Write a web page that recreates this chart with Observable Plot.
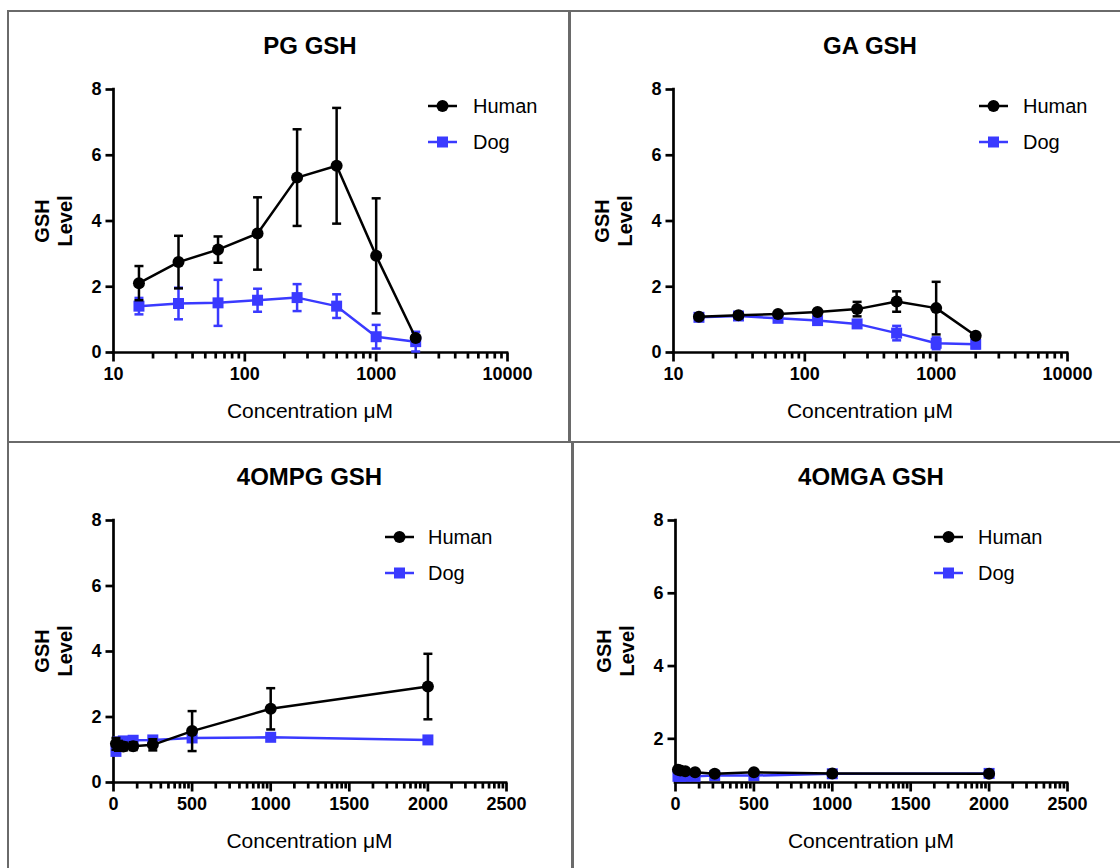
<!DOCTYPE html>
<html><head><meta charset="utf-8">
<script src="https://cdn.jsdelivr.net/npm/d3@7"></script>
<script src="https://cdn.jsdelivr.net/npm/@observablehq/plot@0.6"></script>
<style>
body{margin:0;background:#fff;font-family:"Liberation Sans",Arial,sans-serif;color:#000;}
#root{position:relative;width:1120px;height:868px;overflow:hidden;background:#fff;}
.bl{position:absolute;background:#6a6a6a;}
.title{position:absolute;font-weight:bold;font-size:24px;transform:translate(-50%,-50%);white-space:nowrap;}
.xlab{position:absolute;font-size:21px;transform:translate(-50%,-50%);white-space:nowrap;}
.ylab{position:absolute;font-weight:bold;font-size:20px;line-height:23px;text-align:center;transform:translate(-50%,-50%) rotate(-90deg);white-space:nowrap;}
.leg{position:absolute;font-size:20px;display:flex;align-items:center;height:24px;transform:translateY(-50%);white-space:nowrap;}
.leg svg{margin-right:14px;}
.plotsvg{position:absolute;overflow:visible;}
</style></head>
<body><div id="root"></div>
<script>
// ---- data ----
const concentrations = [15.625, 31.25, 62.5, 125, 250, 500, 1000, 2000];
const seriesNames = ["Human", "Dog"];
const panelTitles = ["PG GSH", "GA GSH", "4OMPG GSH", "4OMGA GSH"];
const xLabel = "Concentration \u03bcM";
const yLabelLines = ["GSH", "Level"];

const pgHumanMean = [2.11, 2.75, 3.13, 3.62, 5.32, 5.68, 2.94, 0.44];
const pgHumanSD   = [0.52, 0.80, 0.40, 1.10, 1.47, 1.76, 1.75, 0.08];
const pgDogMean   = [1.41, 1.49, 1.51, 1.59, 1.67, 1.41, 0.48, 0.33];
const pgDogSD     = [0.25, 0.48, 0.70, 0.35, 0.41, 0.36, 0.36, 0.30];

const gaHumanMean = [1.09, 1.13, 1.17, 1.23, 1.32, 1.55, 1.35, 0.51];
const gaHumanSD   = [0.06, 0.05, 0.05, 0.06, 0.22, 0.31, 0.80, 0.06];
const gaDogMean   = [1.07, 1.11, 1.04, 0.97, 0.87, 0.59, 0.28, 0.25];
const gaDogSD     = [0.04, 0.04, 0.05, 0.05, 0.08, 0.22, 0.18, 0.12];

const ompgHumanMean = [1.18, 1.12, 1.10, 1.11, 1.15, 1.57, 2.25, 2.93];
const ompgHumanSD   = [0.18, 0.15, 0.12, 0.12, 0.17, 0.61, 0.63, 1.00];
const ompgDogMean   = [0.95, 1.24, 1.27, 1.29, 1.30, 1.36, 1.38, 1.30];
const ompgDogSD     = [0.05, 0.05, 0.05, 0.05, 0.05, 0.05, 0.05, 0.04];

const omgaHumanMean = [1.15, 1.13, 1.11, 1.08, 1.04, 1.08, 1.05, 1.04];
const omgaHumanSD   = [0.03, 0.03, 0.03, 0.03, 0.03, 0.03, 0.03, 0.03];
const omgaDogMean   = [0.97, 0.97, 0.97, 0.97, 0.99, 0.99, 1.04, 1.05];
const omgaDogSD     = [0.03, 0.03, 0.03, 0.03, 0.03, 0.03, 0.03, 0.03];

const logMajorTicks = [10, 100, 1000, 10000];
const linMajorTicks = [0, 500, 1000, 1500, 2000, 2500];
const yTicksFull = [0, 2, 4, 6, 8];
const yTicksNoZero = [2, 4, 6, 8];

// ---- styles ----
const HUMAN_COLOR = "#000000";
const DOG_COLOR = "#3a3aff";
const AXIS_W = 2.7;

// minor ticks (axis decoration)
const logMinor = [];
for (const d of [10, 100, 1000]) for (let k = 2; k <= 9; k++) logMinor.push(d * k);
const linMinor = [];
for (const s of [0, 500, 1000, 1500, 2000]) for (let k = 2; k <= 9; k++) linMinor.push(s + 500 * Math.log10(k));

function rows(means, sds) {
  return concentrations.map((c, i) => ({c, m: means[i], lo: means[i] - sds[i], hi: means[i] + sds[i]}));
}

const panels = [
  {title: panelTitles[0], type: "log", xDomain: [10, 10000], xTicks: logMajorTicks, xMinor: logMinor,
   yDomain: [0, 8], yTicks: yTicksFull, frame: [113, 89, 507, 352],
   human: rows(pgHumanMean, pgHumanSD), dog: rows(pgDogMean, pgDogSD), legend: [428, 473]},
  {title: panelTitles[1], type: "log", xDomain: [10, 10000], xTicks: logMajorTicks, xMinor: logMinor,
   yDomain: [0, 8], yTicks: yTicksFull, frame: [673, 89, 1067, 352],
   human: rows(gaHumanMean, gaHumanSD), dog: rows(gaDogMean, gaDogSD), legend: [979, 1023]},
  {title: panelTitles[2], type: "linear", xDomain: [0, 2500], xTicks: linMajorTicks, xMinor: linMinor,
   yDomain: [0, 8], yTicks: yTicksFull, frame: [113, 520, 506, 782],
   human: rows(ompgHumanMean, ompgHumanSD), dog: rows(ompgDogMean, ompgDogSD), legend: [385, 428]},
  {title: panelTitles[3], type: "linear", xDomain: [0, 2500], xTicks: linMajorTicks, xMinor: linMinor,
   yDomain: [0.8, 8], yTicks: yTicksNoZero, frame: [675, 520, 1067, 782],
   human: rows(omgaHumanMean, omgaHumanSD), dog: rows(omgaDogMean, omgaDogSD), legend: [934, 978]}
];

const capSymbol = {draw(ctx) { ctx.moveTo(-4.5, 0); ctx.lineTo(4.5, 0); }};
const minorTickSym = {draw(ctx) { ctx.moveTo(0, 0); ctx.lineTo(0, 6); }};
const majorTickSym = {draw(ctx) { ctx.moveTo(0, 0); ctx.lineTo(0, 9); }};
const yTickSym = {draw(ctx) { ctx.moveTo(0, 0); ctx.lineTo(-8, 0); }};

const root = document.getElementById("root");
function add(cls, style, html) {
  const d = document.createElement("div");
  d.className = cls; Object.assign(d.style, style); if (html != null) d.innerHTML = html;
  root.appendChild(d); return d;
}

// panel borders
add("bl", {left: "7px", top: "10px", width: "1113px", height: "2px"});
add("bl", {left: "7px", top: "441px", width: "1113px", height: "2px"});
add("bl", {left: "7px", top: "10px", width: "2px", height: "858px"});
add("bl", {left: "568px", top: "10px", width: "2.5px", height: "432px"});
add("bl", {left: "571px", top: "441px", width: "2.5px", height: "427px"});

const mL = 70, mR = 24, mT = 12, mB = 50;

function seriesMarks(data, color, symbol, r) {
  return [
    Plot.line(data, {x: "c", y: "m", stroke: color, strokeWidth: 2.5}),
    Plot.ruleX(data, {x: "c", y1: "lo", y2: "hi", stroke: color, strokeWidth: 2.5}),
    Plot.dot(data, {x: "c", y: "hi", symbol: capSymbol, stroke: color, strokeWidth: 2.5, fill: "none"}),
    Plot.dot(data, {x: "c", y: "lo", symbol: capSymbol, stroke: color, strokeWidth: 2.5, fill: "none"}),
    Plot.dot(data, {x: "c", y: "m", symbol, r, fill: color, stroke: "none"})
  ];
}

for (const p of panels) {
  const [x0, y0, x1, y1] = p.frame;
  const fmt = d => String(d);
  const yBase = p.yDomain[0], xBase = p.xDomain[0];
  const svg = Plot.plot({
    width: x1 - x0 + mL + mR,
    height: y1 - y0 + mT + mB,
    marginLeft: mL, marginRight: mR, marginTop: mT, marginBottom: mB,
    style: {fontFamily: "'Liberation Sans', Arial, sans-serif", background: "transparent", color: "#000", overflow: "visible"},
    x: {type: p.type, domain: p.xDomain, range: [mL, x1 - x0 + mL], label: null},
    y: {type: "linear", domain: p.yDomain, label: null},
    marks: [
      Plot.axisX({ticks: p.xTicks, tickSize: 9, tickPadding: 6, tickFormat: fmt, stroke: "none",
                  fontSize: 18, fontWeight: "bold", label: null}),
      Plot.axisY({ticks: p.yTicks, tickSize: 8, tickPadding: 4, stroke: "none",
                  fontSize: 18, fontWeight: "bold", label: null}),
      Plot.dot(p.xMinor, {x: d => d, y: () => yBase, symbol: minorTickSym, stroke: "#000", strokeWidth: AXIS_W, fill: "none"}),
      Plot.dot(p.xTicks, {x: d => d, y: () => yBase, symbol: majorTickSym, stroke: "#000", strokeWidth: AXIS_W, fill: "none"}),
      Plot.dot(p.yTicks, {x: () => xBase, y: d => d, symbol: yTickSym, stroke: "#000", strokeWidth: AXIS_W, fill: "none"}),
      Plot.ruleY([yBase], {strokeWidth: AXIS_W, strokeLinecap: "square"}),
      Plot.ruleX([xBase], {strokeWidth: AXIS_W, strokeLinecap: "square"}),
      ...seriesMarks(p.dog, DOG_COLOR, "square", 6.2),
      ...seriesMarks(p.human, HUMAN_COLOR, "circle", 6)
    ]
  });
  svg.classList.add("plotsvg");
  svg.style.left = (x0 - mL) + "px";
  svg.style.top = (y0 - mT) + "px";
  root.appendChild(svg);

  const cx = (x0 + x1) / 2;
  add("title", {left: cx + "px", top: (y0 - 43) + "px"}, p.title);
  add("xlab", {left: cx + "px", top: (y1 + 59) + "px"}, xLabel);
  add("ylab", {left: (x0 - 59) + "px", top: ((y0 + y1) / 2) + "px"}, yLabelLines.join("<br>"));

  const [lx, tx] = p.legend;
  const items = [
    {name: seriesNames[0], color: HUMAN_COLOR, shape: "circle"},
    {name: seriesNames[1], color: DOG_COLOR, shape: "square"}
  ];
  items.forEach((it, i) => {
    const marker = it.shape === "circle"
      ? `<circle cx="14.5" cy="12" r="6" fill="${it.color}"/>`
      : `<rect x="9" y="6.5" width="11" height="11" fill="${it.color}"/>`;
    add("leg", {left: lx + "px", top: (y0 + 17 + i * 36) + "px"},
      `<svg width="${tx - lx - 14}" height="24"><line x1="0" x2="29" y1="12" y2="12" stroke="${it.color}" stroke-width="2.5"/>${marker}</svg><span>${it.name}</span>`);
  });
}
</script>
</body></html>
